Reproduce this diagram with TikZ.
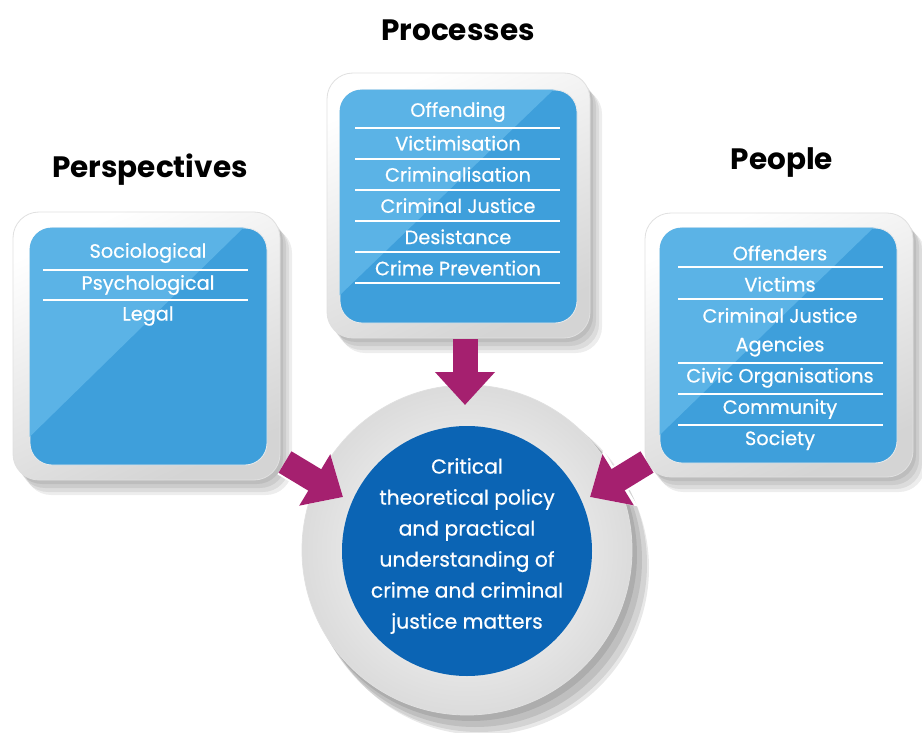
\documentclass[tikz,border=0pt]{standalone}
\usepackage{fontspec}
\setmainfont{Poppins}
\newfontfamily\itemfont{Poppins}[FakeBold=0.5]
\usetikzlibrary{arrows.meta,calc}
\definecolor{cardblue}{HTML}{3E9FDB}
\definecolor{glossblue}{HTML}{5BB3E6}
\definecolor{deepblue}{HTML}{0B64B4}
\definecolor{magentaA}{HTML}{A5206F}
\begin{document}
\begin{tikzpicture}[x=1pt,y=-1pt,
  cardframe/.style={rounded corners=26pt, inner sep=0pt, draw=black!12, line width=0.8pt,
     top color=white, bottom color=black!17, shading angle=25},
  cardshade/.style={rounded corners=26pt, inner sep=0pt, fill=black, fill opacity=0.07, draw=none},
  bluecard/.style={rounded corners=22pt, inner sep=0pt, fill=cardblue, draw=black!8, line width=0.8pt},
  item/.style={text=white, font=\itemfont\fontsize{19.3}{22}\selectfont, inner sep=0pt, anchor=center},
  sep/.style={white, line width=1.3pt},
  title/.style={font=\bfseries\fontsize{29.5}{34}\selectfont, text=black, inner sep=0pt},
  bigarrow/.style={magentaA, line width=25pt, -{Triangle[width=58pt,length=33pt]}},
  arrowhalo/.style={white, line width=29pt, -{Triangle[width=64pt,length=36pt]}},
]
\useasboundingbox (0,0) rectangle (922,733);
\fill[white] (0,0) rectangle (922,733);

% ---------- shadows of cards ----------
\foreach \dx/\dy in {3/4,6/8,9/12,12/15}{
  \node[cardshade, minimum width=267pt, minimum height=268pt] at (146.5+\dx,346+\dy) {};
  \node[cardshade, minimum width=263pt, minimum height=265pt] at (458.5+\dx,205.5+\dy) {};
  \node[cardshade, minimum width=268pt, minimum height=264pt] at (779+\dx,345+\dy) {};
}

% ---------- cards ----------
\node[cardframe, minimum width=267pt, minimum height=268pt] (Lf) at (146.5,346) {};
\node[bluecard, minimum width=237pt, minimum height=237pt] (Lb) at (148.5,346.5) {};
\node[cardframe, minimum width=263pt, minimum height=265pt] (Pf) at (458.5,205.5) {};
\node[bluecard, minimum width=237pt, minimum height=233pt] (Pb) at (458.5,206.5) {};
\node[cardframe, minimum width=268pt, minimum height=264pt] (Rf) at (779,345) {};
\node[bluecard, minimum width=237pt, minimum height=235pt] (Rb) at (778.5,345.5) {};

% gloss
\foreach \b in {Lb,Pb,Rb}{
  \begin{scope}
    \clip[rounded corners=22pt] (\b.north west) rectangle (\b.south east);
    \fill[glossblue] (\b.north west) -- ($(\b.north west)!0.9!(\b.north east)$)
        -- ($(\b.north west)!0.88!(\b.south west)$) -- cycle;
  \end{scope}
}

% ---------- titles ----------
\node[title] (tP) at (150,170) {Perspectives};
\node[title] (tQ) at (458,30) {Processes};
\node[title] (tR) at (782,163) {People};

% ---------- left items ----------
\node[item] (L1) at (148,253) {Sociological};
\node[item] (L2) at (148,285) {Psychological};
\node[item] (L3) at (148,316) {Legal};
\draw[sep] (43,270) -- (248,270);
\draw[sep] (43,300) -- (248,300);

% ---------- process items ----------
\foreach \t [count=\i] in {Offending,Victimisation,Criminalisation,Criminal Justice,Desistance,Crime Prevention}{
  \node[item] (P\i) at (458,112+31.2*\i-31.2) {\t};
  \draw[sep] (355,128+31*\i-31) -- (560,128+31*\i-31);
}

% ---------- people items ----------
\foreach \t [count=\i] in {Offenders,Victims,Criminal Justice,Agencies,Civic Organisations,Community,Society}{
  \node[item] (R\i) at (780,253+31.2*\i-31.2) {\t};
}
\foreach \yy in {267,299,363,394,425}{
  \draw[sep] (678,\yy) -- (883,\yy);
}

% ---------- centre ----------
\foreach \dx/\dy/\rr in {4/5/166,8/10/167,12/14/168,15/18/167}{
  \fill[black, opacity=0.09] (467+\dx,550+\dy) circle[radius=\rr];
}
\node[circle, minimum size=330pt, inner sep=0pt, inner color=white, outer color=black!14,
      draw=black!12, line width=0.8pt] (Co) at (467,550) {};
\node[circle, minimum size=254pt, inner sep=0pt, fill=black!10] (Cr) at (467,551) {};
\node[circle, minimum size=250pt, inner sep=0pt, fill=deepblue] (Ci) at (467,551) {};
\node[text=white, align=center, inner sep=0pt, font=\itemfont\fontsize{20.3}{31}\selectfont] (Ct) at (467,546)
  {Critical\\theoretical policy\\and practical\\understanding of\\crime and criminal\\justice matters};

% ---------- arrows ----------
\coordinate (Ta) at (465,339);
\coordinate (Tb) at (465,405);
\coordinate (La) at (285,462);
\coordinate (Lb2) at (343,497);
\coordinate (Ra) at (647,462);
\coordinate (Rb2) at (590,497);
\draw[arrowhalo] (La) -- (Lb2);
\draw[arrowhalo] (Ra) -- (Rb2);
\draw[bigarrow] (Ta) -- (Tb);
\draw[bigarrow] (La) -- (Lb2);
\draw[bigarrow] (Ra) -- (Rb2);
\end{tikzpicture}
\end{document}
